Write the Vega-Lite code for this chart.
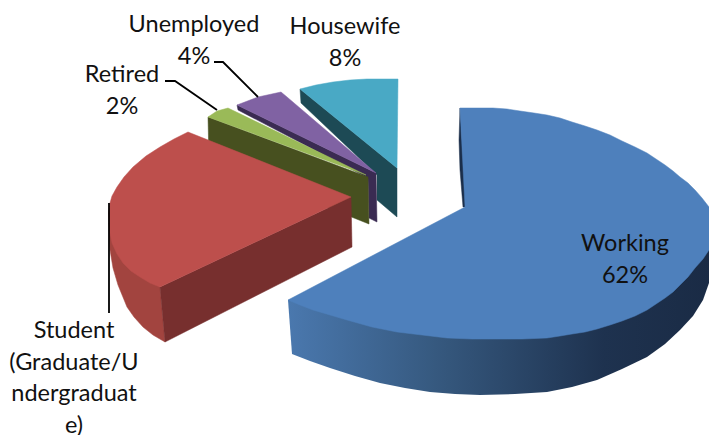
{
"$schema":"https://vega.github.io/schema/vega-lite/v6.json",
"width":709,"height":435,
"autosize":{"type":"none"},
"padding":0,
"background":"white",
"view":{"stroke":null},
"datasets":{
"sideGradient":[
{"s":1,"x":288,"y":300},{"s":2,"x":292,"y":354},{"s":3,"x":310,"y":361},{"s":4,"x":330,"y":368},{"s":5,"x":355,"y":376},{"s":6,"x":380,"y":383},{"s":7,"x":405,"y":388},{"s":8,"x":430,"y":392},{"s":9,"x":455,"y":394},{"s":10,"x":480,"y":395},{"s":11,"x":515,"y":394},{"s":12,"x":547,"y":392},{"s":13,"x":572,"y":387},{"s":14,"x":597,"y":380},{"s":15,"x":622,"y":369},{"s":16,"x":647,"y":357},{"s":17,"x":665,"y":344},{"s":18,"x":680,"y":330},{"s":19,"x":693,"y":316},{"s":20,"x":703,"y":300},{"s":21,"x":709,"y":283},{"s":22,"x":709,"y":250}
],
"faces":[
{"face":"Housewife side","s":1,"x":300,"y":89},{"face":"Housewife side","s":2,"x":301,"y":103},{"face":"Housewife side","s":3,"x":377,"y":175},{"face":"Housewife side","s":4,"x":377,"y":200},{"face":"Housewife side","s":5,"x":397,"y":217},{"face":"Housewife side","s":6,"x":397,"y":168},
{"face":"Housewife","s":1,"x":300,"y":89},{"face":"Housewife","s":2,"x":316,"y":85},{"face":"Housewife","s":3,"x":333,"y":82},{"face":"Housewife","s":4,"x":350,"y":80},{"face":"Housewife","s":5,"x":367,"y":79},{"face":"Housewife","s":6,"x":398,"y":79},{"face":"Housewife","s":7,"x":397,"y":168},
{"face":"Unemployed side","s":1,"x":237,"y":105},{"face":"Unemployed side","s":2,"x":238,"y":110},{"face":"Unemployed side","s":3,"x":368,"y":178},{"face":"Unemployed side","s":4,"x":369,"y":218},{"face":"Unemployed side","s":5,"x":377,"y":222},{"face":"Unemployed side","s":6,"x":376,"y":173},
{"face":"Unemployed","s":1,"x":237,"y":105},{"face":"Unemployed","s":2,"x":258,"y":97},{"face":"Unemployed","s":3,"x":281,"y":92},{"face":"Unemployed","s":4,"x":287,"y":97},{"face":"Unemployed","s":5,"x":376,"y":173},
{"face":"Retired side","s":1,"x":208,"y":117},{"face":"Retired side","s":2,"x":209,"y":160},{"face":"Retired side","s":3,"x":369,"y":224},{"face":"Retired side","s":4,"x":368,"y":177},
{"face":"Retired","s":1,"x":208,"y":117},{"face":"Retired","s":2,"x":217,"y":111},{"face":"Retired","s":3,"x":228,"y":108},{"face":"Retired","s":4,"x":366,"y":175},
{"face":"Student outer","s":1,"x":109,"y":223},{"face":"Student outer","s":2,"x":110,"y":250},{"face":"Student outer","s":3,"x":113,"y":268},{"face":"Student outer","s":4,"x":118,"y":285},{"face":"Student outer","s":5,"x":127,"y":307},{"face":"Student outer","s":6,"x":134,"y":317},{"face":"Student outer","s":7,"x":143,"y":327},{"face":"Student outer","s":8,"x":153,"y":335},{"face":"Student outer","s":9,"x":165,"y":342},{"face":"Student outer","s":10,"x":160,"y":287},
{"face":"Student side","s":1,"x":160,"y":287},{"face":"Student side","s":2,"x":165,"y":342},{"face":"Student side","s":3,"x":352,"y":247},{"face":"Student side","s":4,"x":351,"y":197},
{"face":"Student","s":1,"x":188,"y":132},{"face":"Student","s":2,"x":174,"y":139},{"face":"Student","s":3,"x":160,"y":147},{"face":"Student","s":4,"x":146,"y":156},{"face":"Student","s":5,"x":133,"y":167},{"face":"Student","s":6,"x":124,"y":177},{"face":"Student","s":7,"x":117,"y":187},{"face":"Student","s":8,"x":112,"y":196},{"face":"Student","s":9,"x":110,"y":203},{"face":"Student","s":10,"x":108.5,"y":213},{"face":"Student","s":11,"x":109,"y":223},{"face":"Student","s":12,"x":110,"y":233},{"face":"Student","s":13,"x":112,"y":243},{"face":"Student","s":14,"x":117,"y":254},{"face":"Student","s":15,"x":123,"y":263},{"face":"Student","s":16,"x":131,"y":271},{"face":"Student","s":17,"x":140,"y":277},{"face":"Student","s":18,"x":150,"y":283},{"face":"Student","s":19,"x":160,"y":287},{"face":"Student","s":20,"x":351,"y":197},
{"face":"Working inner","s":1,"x":460,"y":108},{"face":"Working inner","s":2,"x":459,"y":140},{"face":"Working inner","s":3,"x":460,"y":170},{"face":"Working inner","s":4,"x":463,"y":207},{"face":"Working inner","s":5,"x":466,"y":207},
{"face":"Working","s":1,"x":460,"y":108},{"face":"Working","s":2,"x":493,"y":108},{"face":"Working","s":3,"x":507,"y":109},{"face":"Working","s":4,"x":520,"y":111},{"face":"Working","s":5,"x":534,"y":113},{"face":"Working","s":6,"x":547,"y":115},{"face":"Working","s":7,"x":560,"y":118},{"face":"Working","s":8,"x":572,"y":122},{"face":"Working","s":9,"x":585,"y":126},{"face":"Working","s":10,"x":597,"y":130},{"face":"Working","s":11,"x":610,"y":135},{"face":"Working","s":12,"x":622,"y":141},{"face":"Working","s":13,"x":635,"y":147},{"face":"Working","s":14,"x":647,"y":153},{"face":"Working","s":15,"x":656,"y":159},{"face":"Working","s":16,"x":665,"y":165},{"face":"Working","s":17,"x":673,"y":171},{"face":"Working","s":18,"x":680,"y":177},{"face":"Working","s":19,"x":688,"y":183},{"face":"Working","s":20,"x":695,"y":190},{"face":"Working","s":21,"x":702,"y":198},{"face":"Working","s":22,"x":709,"y":207},{"face":"Working","s":23,"x":709,"y":250},{"face":"Working","s":24,"x":703,"y":259},{"face":"Working","s":25,"x":695,"y":268},{"face":"Working","s":26,"x":688,"y":277},{"face":"Working","s":27,"x":680,"y":285},{"face":"Working","s":28,"x":673,"y":292},{"face":"Working","s":29,"x":665,"y":298},{"face":"Working","s":30,"x":656,"y":304},{"face":"Working","s":31,"x":647,"y":310},{"face":"Working","s":32,"x":635,"y":316},{"face":"Working","s":33,"x":622,"y":321},{"face":"Working","s":34,"x":610,"y":325},{"face":"Working","s":35,"x":597,"y":329},{"face":"Working","s":36,"x":585,"y":332},{"face":"Working","s":37,"x":572,"y":334},{"face":"Working","s":38,"x":560,"y":336},{"face":"Working","s":39,"x":547,"y":338},{"face":"Working","s":40,"x":522,"y":339},{"face":"Working","s":41,"x":497,"y":339},{"face":"Working","s":42,"x":472,"y":339},{"face":"Working","s":43,"x":447,"y":338},{"face":"Working","s":44,"x":422,"y":335},{"face":"Working","s":45,"x":397,"y":332},{"face":"Working","s":46,"x":372,"y":327},{"face":"Working","s":47,"x":347,"y":320},{"face":"Working","s":48,"x":330,"y":315},{"face":"Working","s":49,"x":313,"y":310},{"face":"Working","s":50,"x":300,"y":305},{"face":"Working","s":51,"x":288,"y":300},{"face":"Working","s":52,"x":465,"y":207}
],
"leaders":[
{"to":"Unemployed","s":1,"x":214,"y":62},{"to":"Unemployed","s":2,"x":223,"y":62},{"to":"Unemployed","s":3,"x":258,"y":97},
{"to":"Retired","s":1,"x":165,"y":81},{"to":"Retired","s":2,"x":175,"y":81},{"to":"Retired","s":3,"x":217,"y":110},
{"to":"Student","s":1,"x":109,"y":203},{"to":"Student","s":2,"x":109,"y":313}
],
"labels":[
{"category":"Working","share":62,"label":"Working\n62%","x":625,"y":244},
{"category":"Housewife","share":8,"label":"Housewife\n8%","x":345,"y":27},
{"category":"Unemployed","share":4,"label":"Unemployed\n4%","x":194,"y":25},
{"category":"Retired","share":2,"label":"Retired\n2%","x":122,"y":75},
{"category":"Student","share":24,"label":"Student\n(Graduate/U\nndergraduat\ne)","x":74,"y":331}
]
},
"encoding":{
"x":{"field":"x","type":"quantitative","scale":{"domain":[0,709],"nice":false,"zero":false},"axis":null},
"y":{"field":"y","type":"quantitative","scale":{"domain":[435,0],"nice":false,"zero":false},"axis":null}
},
"layer":[
{"data":{"name":"sideGradient"},
"mark":{"type":"line","interpolate":"linear-closed","strokeWidth":0,
"fill":{"gradient":"linear","x1":0,"x2":1,"y1":0,"y2":0,"stops":[{"offset":0,"color":"#4A78AE"},{"offset":0.35,"color":"#36597F"},{"offset":0.75,"color":"#1E324F"},{"offset":1,"color":"#1A2B45"}]}},
"encoding":{"order":{"field":"s","type":"quantitative"}}},
{"data":{"name":"faces"},
"mark":{"type":"line","interpolate":"linear-closed","strokeWidth":0.5},
"encoding":{
"order":{"field":"s","type":"quantitative"},
"detail":{"field":"face"},
"stroke":{"field":"face","type":"nominal","legend":null,"scale":{"domain":["Housewife side","Housewife","Unemployed side","Unemployed","Retired side","Retired","Student outer","Student side","Student","Working inner","Working"],"range":["#1D4A55","#49A9C5","#3A2B52","#8062A3","#47501F","#9ABA58","#A2443F","#772F2E","#BD4F4C","#1B2E4A","#4E80BC"]}},
"fill":{"field":"face","type":"nominal","legend":null,"scale":{"domain":["Housewife side","Housewife","Unemployed side","Unemployed","Retired side","Retired","Student outer","Student side","Student","Working inner","Working"],"range":["#1D4A55","#49A9C5","#3A2B52","#8062A3","#47501F","#9ABA58","#A2443F","#772F2E","#BD4F4C","#1B2E4A","#4E80BC"]}}
}},
{"data":{"name":"leaders"},
"mark":{"type":"line","color":"black","strokeWidth":1.8},
"encoding":{"order":{"field":"s","type":"quantitative"},"detail":{"field":"to"}}},
{"data":{"name":"labels"},
"mark":{"type":"text","font":"Lato","fontSize":23.5,"color":"#111111","lineBreak":"\n","lineHeight":31.5,"align":"center","baseline":"middle"},
"encoding":{"text":{"field":"label"}}}
]
}
